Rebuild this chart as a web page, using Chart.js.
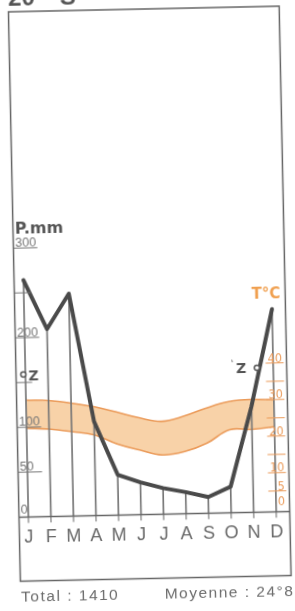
<!DOCTYPE html>
<html>
<head>
<meta charset="utf-8">
<script src="https://cdn.jsdelivr.net/npm/chart.js@4.4.0/dist/chart.umd.min.js"></script>
<style>
    html, body { margin: 0; padding: 0; background: #fff; width: 295px; height: 611px; overflow: hidden; }
    /* the scanned page is slightly tilted, so the whole canvas is turned a little */
    #wrap { position: absolute; left: -20px; top: -20px; width: 335px; height: 651px; transform: rotate(-1.2deg); transform-origin: 50% 50%; }
</style>
</head>
<body>
<div id="wrap"><canvas id="climateChart" width="335" height="651"></canvas></div>
<script>
const months = ['J', 'F', 'M', 'A', 'M', 'J', 'J', 'A', 'S', 'O', 'N', 'D'];
const precipitation = [264, 209, 248, 105, 45, 36, 29, 24, 18, 29, 118, 226];
const tempMax = [31.3, 31.0, 30.2, 29.1, 27.5, 25.8, 24.7, 26.0, 28.1, 29.7, 30.2, 29.9];
const tempMin = [23.6, 23.2, 22.4, 21.4, 18.8, 17.0, 15.5, 16.3, 18.5, 22.0, 22.0, 22.6];

const precipTicks = [50, 100, 150, 200, 250, 300];
const precipTickLabels = ['50', '100', '', '200', '', '300'];
const tempTicks = [5, 10, 15, 20, 25, 30, 35, 40];
const tempTickLabels = [0, 5, 10, 20, 30, 40];

// zenith sun marks (month position, P value)
const zenithMonth = [-0.09, 10.28];
const zenithValue = [159, 161];

const totalText = 'Total : 1410';
const meanText = 'Moyenne : 24°8';

const grey = '#666';
const orange = '#eb9b5a';
const peach = '#f8d2a8';

const toPoints = (values) => values.map((v, i) => ({ x: i, y: v }));

const decor = {
    id: 'decor',
    afterDatasetsDraw(chart) {
        const ctx = chart.ctx;
        const { left, right, top, bottom } = chart.chartArea;
        const xs = chart.scales.x, ys = chart.scales.y, yt = chart.scales.yT;
        const y0 = ys.getPixelForValue(0);

        ctx.save();
        // frame and zero line
        ctx.strokeStyle = grey;
        ctx.lineWidth = 1.5;
        ctx.strokeRect(left, top, right - left, bottom - top);
        ctx.beginPath();
        ctx.moveTo(left, y0);
        ctx.lineTo(right, y0);
        ctx.stroke();

        // month ticks and letters
        ctx.lineWidth = 1;
        ctx.fillStyle = '#686868';
        ctx.font = '18px "Liberation Sans", Arial, sans-serif';
        ctx.textAlign = 'center';
        ctx.textBaseline = 'middle';
        months.forEach((m, i) => {
            const px = xs.getPixelForValue(i);
            ctx.beginPath();
            ctx.moveTo(px, y0);
            ctx.lineTo(px, y0 + 6);
            ctx.stroke();
            ctx.fillText(m, px, y0 + 21);
        });

        // precipitation scale (left)
        ctx.strokeStyle = '#777';
        ctx.fillStyle = '#777';
        ctx.font = '12.5px "Liberation Sans", Arial, sans-serif';
        ctx.textAlign = 'left';
        ctx.textBaseline = 'alphabetic';
        precipTicks.forEach((v, i) => {
            const py = ys.getPixelForValue(v);
            const len = precipTickLabels[i] ? 24 : 16;
            ctx.beginPath();
            ctx.moveTo(left, py);
            ctx.lineTo(left + len, py);
            ctx.stroke();
            if (precipTickLabels[i]) ctx.fillText(precipTickLabels[i], left + 2, py - 1.5);
        });
        ctx.fillText('0', left + 2, y0 - 3);

        ctx.fillStyle = '#555';
        ctx.font = 'bold 16px "DejaVu Sans", sans-serif';
        ctx.fillText('P.mm', left + 2, ys.getPixelForValue(300) - 14.7);

        // temperature scale (right)
        ctx.strokeStyle = orange;
        ctx.fillStyle = orange;
        tempTicks.forEach(t => {
            const py = yt.getPixelForValue(t);
            ctx.beginPath();
            ctx.moveTo(right - 21, py);
            ctx.lineTo(right - 3, py);
            ctx.stroke();
        });
        ctx.font = '12.5px "Liberation Sans Narrow", "DejaVu Sans Condensed", sans-serif';
        ctx.textAlign = 'right';
        tempTickLabels.forEach(t => {
            const py = yt.getPixelForValue(t);
            ctx.fillText(String(t), right - 4.5, t === 0 ? py - 4 : py - 1);
        });
        ctx.font = 'bold 15px "DejaVu Sans", sans-serif';
        ctx.fillStyle = '#f0a050';
        ctx.fillText('T°C', right - 5, yt.getPixelForValue(40) - 65);

        // zenith letters
        ctx.fillStyle = '#555';
        ctx.font = 'bold 14px "DejaVu Sans", sans-serif';
        const zx0 = xs.getPixelForValue(zenithMonth[0]), zy0 = ys.getPixelForValue(zenithValue[0]);
        ctx.textAlign = 'left';
        ctx.fillText('Z', zx0 + 5, zy0 + 5.8);
        const zx1 = xs.getPixelForValue(zenithMonth[1]), zy1 = ys.getPixelForValue(zenithValue[1]);
        ctx.textAlign = 'right';
        ctx.fillText('Z', zx1 - 10.8, zy1 + 4.7);
        ctx.strokeStyle = '#777';
        ctx.beginPath();
        ctx.moveTo(zx1 - 25, zy1 - 8.5);
        ctx.lineTo(zx1 - 24.5, zy1 - 6);
        ctx.stroke();

        // title, cut by the page top
        ctx.fillStyle = '#555';
        ctx.font = 'bold 24px "Liberation Sans", Arial, sans-serif';
        ctx.textAlign = 'left';
        ctx.fillText('20°', left, top - 6.5);
        ctx.fillText('S', left + 51.7, top - 6.5);

        // footer
        ctx.fillStyle = '#6c6c6c';
        ctx.font = '15.5px "Liberation Sans", Arial, sans-serif';
        ctx.letterSpacing = '1.5px';
        ctx.textAlign = 'left';
        ctx.fillText(totalText, left + 0.5, bottom + 20);
        ctx.textAlign = 'right';
        ctx.fillText(meanText, right + 3, bottom + 20);
        ctx.restore();
    }
};

const ctx = document.getElementById('climateChart').getContext('2d');
const climateChart = new Chart(ctx, {
    type: 'line',
    data: {
        datasets: [
            {
                label: 'T max',
                data: toPoints(tempMax),
                yAxisID: 'yT',
                borderColor: orange,
                borderWidth: 1.6,
                backgroundColor: peach,
                fill: '+1',
                tension: 0.4,
                pointRadius: 0,
                order: 4
            },
            {
                label: 'T min',
                data: toPoints(tempMin),
                yAxisID: 'yT',
                borderColor: orange,
                borderWidth: 1.6,
                fill: false,
                tension: 0.4,
                pointRadius: 0,
                order: 3
            },
            {
                type: 'bar',
                label: 'P lines',
                data: toPoints(precipitation),
                yAxisID: 'y',
                backgroundColor: '#767676',
                barThickness: 1,
                order: 2
            },
            {
                label: 'P',
                data: toPoints(precipitation),
                yAxisID: 'y',
                borderColor: '#4a4a4a',
                borderWidth: 4,
                borderJoinStyle: 'round',
                borderCapStyle: 'round',
                tension: 0,
                pointRadius: 0,
                fill: false,
                order: 1
            },
            {
                label: 'Z',
                data: zenithMonth.map((m, i) => ({ x: m, y: zenithValue[i] })),
                yAxisID: 'y',
                showLine: false,
                pointRadius: 2.6,
                pointBorderWidth: 1.5,
                pointBackgroundColor: '#fff',
                pointBorderColor: '#555',
                order: 0
            }
        ]
    },
    options: {
        responsive: false,
        devicePixelRatio: 1,
        animation: false,
        layout: { padding: { left: 34.6, right: 29.6, top: 29, bottom: 52.5 } },
        plugins: { legend: { display: false }, tooltip: { enabled: false } },
        scales: {
            x: { type: 'linear', min: -0.417, max: 11.6, offset: false, grid: { offset: false }, display: false },
            y: { type: 'linear', min: -71.5, max: 563.6, display: false },
            yT: { type: 'linear', position: 'right', min: -18.2, max: 137.5, display: false }
        }
    },
    plugins: [decor]
});
</script>
</body>
</html>
